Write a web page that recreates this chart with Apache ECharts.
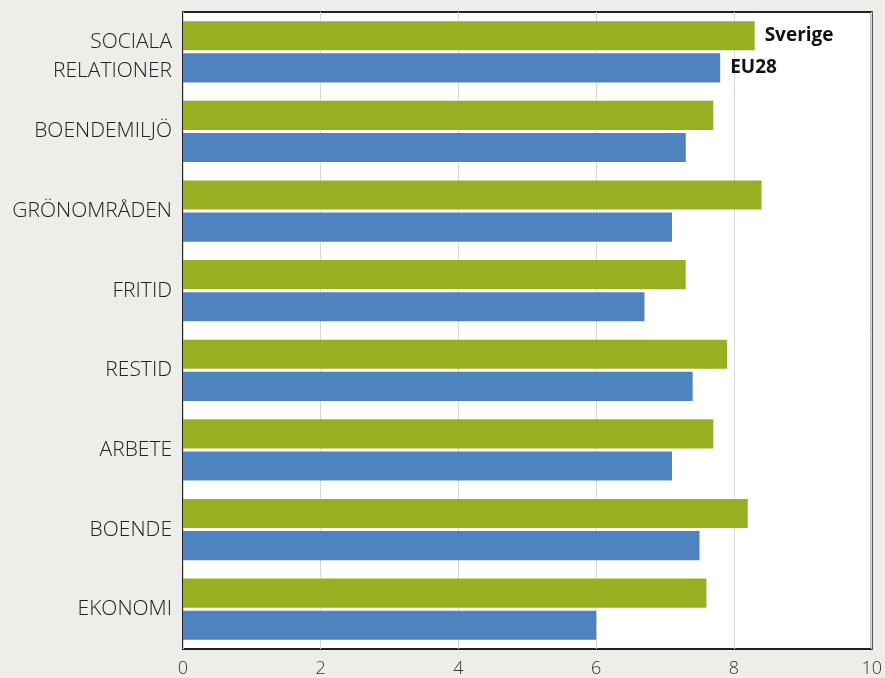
<!DOCTYPE html>
<html>
<head>
<meta charset="utf-8">
<script src="https://cdn.jsdelivr.net/npm/echarts@6/dist/echarts.min.js"></script>
<style>
html,body{margin:0;padding:0;background:#eeede9;}
#chart{width:885px;height:678px;}
</style>
</head>
<body>
<div id="chart"></div>
<script>
const categories = ['SOCIALA\nRELATIONER', 'BOENDEMILJÖ', 'GRÖNOMRÅDEN', 'FRITID', 'RESTID', 'ARBETE', 'BOENDE', 'EKONOMI'];
const sverige = [8.3, 7.7, 8.4, 7.3, 7.9, 7.7, 8.2, 7.6];
const eu28 = [7.8, 7.3, 7.1, 6.7, 7.4, 7.1, 7.5, 6.0];
const xTicks = [0, 2, 4, 6, 8, 10];

function withFirstLabel(arr) {
  return arr.map((v, i) => i === 0 ? {
    value: v,
    label: {show: true, position: 'right', distance: 10, formatter: '{a}',
      fontFamily: 'Open Sans', fontWeight: 'bold', fontSize: 19, color: '#111'}
  } : v);
}

const chart = echarts.init(document.getElementById('chart'));
chart.setOption({
  backgroundColor: '#eeede9',
  animation: false,
  grid: {left: 183, right: 11, top: 12, bottom: 29, show: true,
    backgroundColor: '#ffffff', borderColor: '#222', borderWidth: 2},
  xAxis: {
    type: 'value', min: xTicks[0], max: xTicks[xTicks.length - 1], interval: 2,
    axisLine: {show: false}, axisTick: {show: false},
    splitLine: {show: true, lineStyle: {color: '#d8d8d8', width: 1}},
    axisLabel: {fontFamily: 'Open Sans', fontSize: 18, fontWeight: 300, color: '#333', margin: 11}
  },
  yAxis: {
    type: 'category', data: categories, inverse: true,
    axisLine: {show: false}, axisTick: {show: false},
    axisLabel: {
      fontFamily: 'Open Sans', fontSize: 21, fontWeight: 300, color: '#222', margin: 11, lineHeight: 29, align: 'right',
      formatter: v => v.indexOf('\n') >= 0
        ? '{s|}\n' + v.split('\n').map(s => '{t|' + s + '}').join('\n') : v,
      rich: {
        s: {lineHeight: 10, fontSize: 1},
        t: {fontFamily: 'Open Sans', fontSize: 21, fontWeight: 300, color: '#222', lineHeight: 29}
      }
    }
  },
  series: [
    {name: 'Sverige', type: 'bar', data: withFirstLabel(sverige), itemStyle: {color: '#97b022'},
      barGap: '10%', barCategoryGap: '23%'},
    {name: 'EU28', type: 'bar', data: withFirstLabel(eu28), itemStyle: {color: '#4e83bf'},
      barGap: '10%', barCategoryGap: '23%'}
  ]
});
</script>
</body>
</html>
